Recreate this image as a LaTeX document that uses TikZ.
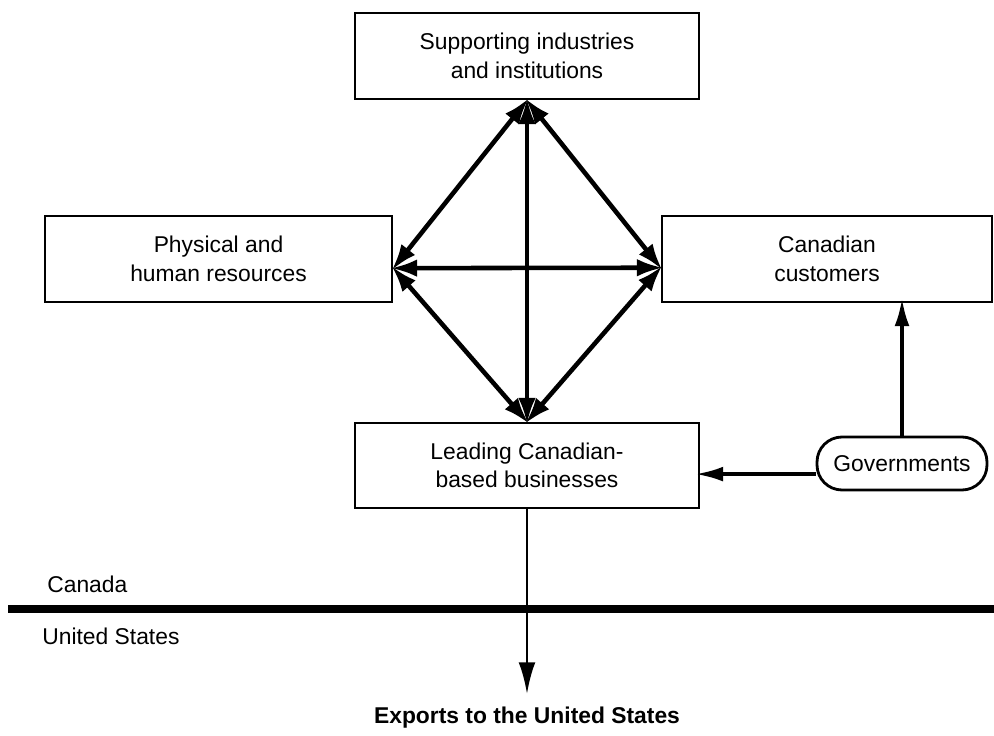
\documentclass[tikz,border=0pt]{standalone}
\usepackage{fontspec}
\setmainfont{Liberation Sans}
\usetikzlibrary{arrows.meta}
\begin{document}
\begin{tikzpicture}[x=0.02cm,y=-0.02cm,
                    font=\fontsize{13}{16.3}\selectfont,
                    box/.style={draw,line width=1.6pt,align=center,minimum height=1.72cm},
                    link/.style={<->,>={Latex[length=15pt,width=10pt]},line width=2.6pt,
                                 shorten >=-1.5pt,shorten <=-1.5pt},
                    feed/.style={->,>={Latex[length=16pt,width=8.5pt]},line width=2.2pt,
                                 shorten >=-3pt}]
\useasboundingbox (0,0) rectangle (994,736);
\node[box, minimum width=6.88cm] (sup) at (527,56) {Supporting industries\\and institutions};
\node[box, minimum width=6.94cm] (res) at (218.5,259) {Physical and\\human resources};
\node[box, minimum width=6.6cm] (cus) at (827,259) {Canadian\\customers};
\node[box, minimum width=6.88cm, minimum height=1.7cm] (lead) at (527,465.5) {Leading Canadian-\\based businesses};
\node[draw, line width=1.6pt, rounded corners=0.5cm, minimum width=3.4cm, minimum height=1.06cm] (gov) at (902,463.5) {Governments};
\node[font=\fontsize{13}{16.3}\selectfont\bfseries] (exp) at (527,718) {Exports to the United States};
\node[anchor=west, inner sep=0pt] (can) at (47,584) {Canada};
\node[anchor=west, inner sep=0pt] (usa) at (42,636) {United States};

% border
\draw[line width=5pt] (8,609) -- (994,609);

\draw[link] (sup.south) -- (res.-3);
\draw[link] (sup.south) -- (cus.183);
\draw[link] (sup.south) -- (lead.north);
\draw[link] (res.-3) -- (cus.183);
\draw[link] (res.-3) -- (lead.north);
\draw[link] (cus.183) -- (lead.north);

\draw[feed] (gov.north) -- (gov.north |- cus.south);
\draw[feed] (gov.187) -- (gov.187 -| lead.east);
\draw[->,>={Latex[length=18pt,width=9.5pt]},line width=1.7pt,shorten >=4pt] (lead.south) -- (exp);

\end{tikzpicture}
\end{document}
